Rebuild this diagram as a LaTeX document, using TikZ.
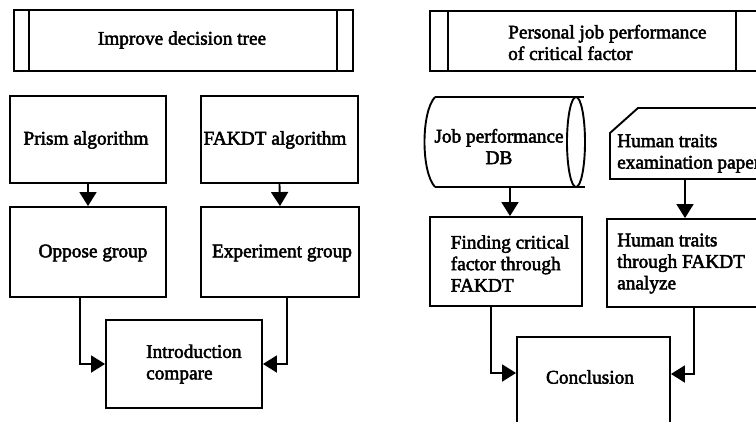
\documentclass[tikz,border=0pt]{standalone}
\usepackage{fontspec}
\setmainfont{Liberation Serif}
\newfontfamily\heavyserif{Liberation Serif}[FakeBold=2.5]
\usetikzlibrary{arrows.meta}
\tikzset{
  box/.style={draw, line width=1.9pt, rectangle, inner sep=0pt},
  lbl/.style={inner sep=0pt, align=left, font=\heavyserif\fontsize{19.3}{21.5}\selectfont},
  clbl/.style={inner sep=0pt, align=center, font=\heavyserif\fontsize{19.3}{21.5}\selectfont},
  ln/.style={line width=1.9pt},
  arr/.style={line width=1.9pt, -{Triangle[length=14pt,width=17pt]}},
}
\begin{document}
\begin{tikzpicture}[x=1pt,y=-1pt]
\useasboundingbox (0,0) rectangle (756,421);
\clip (0,0) rectangle (756,421);
% ---- left column ----
\node[box, minimum width=339pt, minimum height=61pt] (t1) at (183.5,40.5) {};
\node[clbl] (t1t) at (182,40) {Improve decision tree};
\draw[ln] ([xshift=16pt]t1.north west) -- ([xshift=16pt]t1.south west);
\draw[ln] ([xshift=-17pt]t1.north east) -- ([xshift=-17pt]t1.south east);

\node[box, minimum width=156pt, minimum height=87pt] (prism) at (88,139.5) {};
\node[clbl] (prismt) at (86,140) {Prism algorithm};
\node[box, minimum width=157pt, minimum height=87pt] (fakdt) at (279.5,139.5) {};
\node[clbl] (fakdtt) at (275,140) {FAKDT algorithm};

\node[box, minimum width=156pt, minimum height=90pt] (oppose) at (88,252) {};
\node[clbl] (opposet) at (93,253) {Oppose group};
\node[box, minimum width=158pt, minimum height=90pt] (exper) at (280,252) {};
\node[clbl] (expert) at (282,253) {Experiment group};

\node[box, minimum width=156pt, minimum height=88pt] (intro) at (184,364) {};
\node[lbl, anchor=west] (introt) at (146,364) {Introduction\\compare};

\draw[arr] (prism.south) -- (oppose.north);
\draw[arr] (fakdt.south) -- (exper.north);
\draw[arr] ([xshift=-8pt]oppose.south) |- (intro.west);
\draw[arr] ([xshift=7pt]exper.south) |- (intro.east);

% ---- right column ----
\node[box, minimum width=346pt, minimum height=60pt] (t2) at (603,41) {};
\draw[ln] ([xshift=19pt]t2.north west) -- ([xshift=19pt]t2.south west);
\draw[ln] (736,11) -- (736,71);
\node[lbl, anchor=west] (t2t) at (508,42.5) {Personal job performance\\of critical factor};

% cylinder
\draw[ln] (435,97) -- (584,97);
\draw[ln] (435,187) -- (585,187);
\draw[ln] (435,97) .. controls (421,112) and (421,172) .. (435,187);
\draw[ln] (576,142) ellipse [x radius=9, y radius=45];
\node[clbl] (cyl) at (499,146.5) {Job performance\\DB};
\coordinate (cylb) at (510,187);

% card
\draw[ln] (780,108) -- (638,108) -- (610,133) -- (610,179) -- (780,179);
\node[lbl, anchor=west] (card) at (617,153.5) {Human traits\\examination paper};
\coordinate (cardb) at (685,179);

\node[box, minimum width=152pt, minimum height=89pt] (find) at (506,261.5) {};
\node[lbl] (findt) at (510,263.5) {Finding critical\\factor through\\FAKDT};
\node[box, minimum width=174pt, minimum height=88pt] (human) at (694,263) {};
\node[lbl, anchor=west] (humant) at (617,263.5) {Human traits\\through FAKDT\\analyze};

\node[box, minimum width=153pt, minimum height=88pt] (concl) at (593.5,381) {};
\node[clbl] (conclt) at (590,377) {Conclusion};

\draw[arr] (cylb) -- (cylb |- find.north);
\draw[arr] (cardb) -- (cardb |- human.north);
\draw[arr] ([xshift=-15pt]find.south) |- ([yshift=8pt]concl.west);
\draw[arr] (human.south) |- ([yshift=7pt]concl.east);
\end{tikzpicture}
\end{document}
